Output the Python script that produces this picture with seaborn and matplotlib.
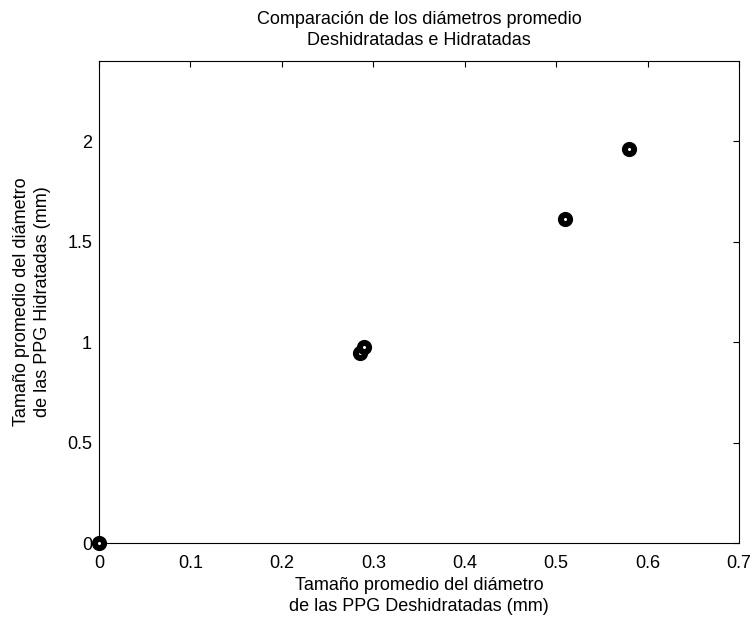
import matplotlib
matplotlib.use("Agg")
import matplotlib.pyplot as plt
import seaborn as sns
import pandas as pd

deshidratadas = [0.0, 0.285, 0.290, 0.510, 0.580]
hidratadas = [0.0, 0.945, 0.975, 1.612, 1.963]
x_ticks = [0, 0.1, 0.2, 0.3, 0.4, 0.5, 0.6, 0.7]
x_tick_labels = ["0", "0.1", "0.2", "0.3", "0.4", "0.5", "0.6", "0.7"]
y_ticks = [0, 0.5, 1, 1.5, 2]
y_tick_labels = ["0", "0.5", "1", "1.5", "2"]

sns.set_style("white")
plt.rcParams['font.family'] = ['Liberation Sans', 'DejaVu Sans']
plt.rcParams['text.color'] = 'black'
plt.rcParams['axes.labelcolor'] = 'black'

df = pd.DataFrame({"x": deshidratadas, "y": hidratadas})

fig = plt.figure(figsize=(7.53, 6.22), dpi=100)
ax = fig.add_axes([99/753, 1-543.4/622, (739-99)/753, (543.4-60.7)/622])

sns.scatterplot(data=df, x="x", y="y", ax=ax, marker="o", s=44,
                facecolor="white", edgecolor="black", linewidth=4.3,
                clip_on=False, zorder=5)

ax.set_xlim(0, 0.7)
ax.set_ylim(0, 2.4)
ax.set_xticks(x_ticks)
ax.set_xticklabels(x_tick_labels)
ax.set_yticks(y_ticks)
ax.set_yticklabels(y_tick_labels)
ax.tick_params(direction="in", length=4, width=0.8, top=True, right=True,
               labelsize=13, colors="black")
ax.tick_params(axis="x", pad=8)
ax.tick_params(axis="y", pad=5)
for s in ax.spines.values():
    s.set_visible(True)
    s.set_color("black")
    s.set_linewidth(0.8)

ax.set_title("Comparación de los diámetros promedio\nDeshidratadas e Hidratadas",
             fontsize=13, pad=11.5, linespacing=1.3, color="black")
ax.set_xlabel("Tamaño promedio del diámetro\nde las PPG Deshidratadas (mm)",
              fontsize=13, labelpad=4, linespacing=1.3, color="black")
ax.set_ylabel("Tamaño promedio del diámetro\nde las PPG Hidratadas (mm)",
              fontsize=13, labelpad=11.5, linespacing=1.3, color="black")

fig.savefig("out.png", dpi=100, facecolor="white")
